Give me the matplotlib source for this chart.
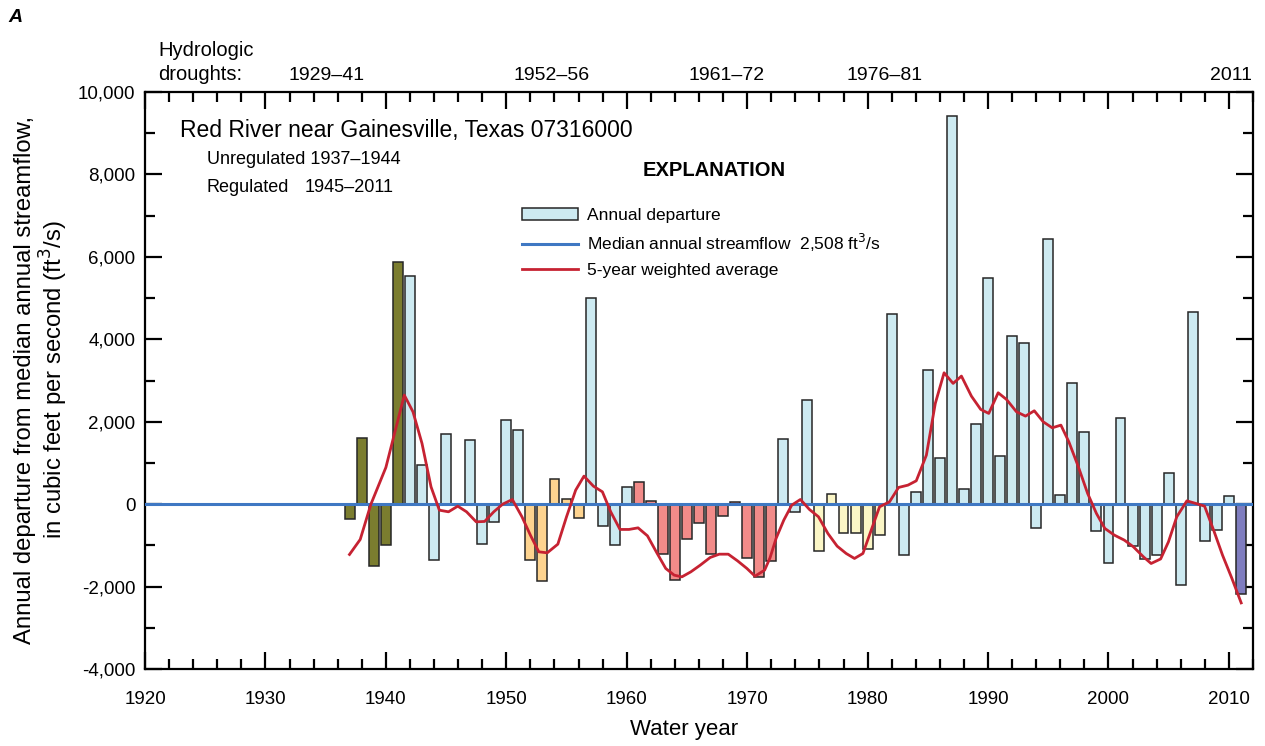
import numpy as np
import matplotlib
matplotlib.use("Agg")
from matplotlib import pyplot as plt
from matplotlib.patches import Patch
from matplotlib.lines import Line2D
from matplotlib.ticker import MultipleLocator, FuncFormatter

plt.rcParams['font.family'] = ['Liberation Sans', 'DejaVu Sans']

# annual departure from median streamflow, ft3/s
years = list(range(1937, 2012))
departure = [-350, 1600, -1500, -980, 5870, 5540, 950, -1360, 1690, 0,
             1550, -955, -430, 2050, 1790, -1350, -1870, 600, 120, -330,
             4990, -520, -990, 410, 530, 80, -1210, -1850, -850, -460,
             -1200, -290, 60, -1310, -1770, -1370, 1590, -190, 2520, -1130,
             235, -690, -700, -1080, -750, 4620, -1240, 300, 3260, 1120,
             9410, 356, 1940, 5490, 1170, 4080, 3920, -570, 6430, 210,
             2950, 1760, -640, -1440, 2100, -1020, -1330, -1230, 760, -1950,
             4650, -900, -630, 200, -2180]

# 5-year weighted average
avg_years = [1936.98, 1937.87, 1938.76, 1940.0, 1941.53, 1942.25, 1943.0, 1943.75,
             1944.44, 1945.2, 1945.97, 1946.7, 1947.5, 1948.2, 1948.96, 1949.7,
             1950.5, 1951.3, 1952.0, 1952.7, 1953.4, 1954.28, 1955.0, 1955.76,
             1956.45, 1957.23, 1957.98, 1958.67, 1959.44, 1960.19, 1960.94, 1961.72,
             1962.5, 1963.24, 1963.94, 1964.58, 1965.32, 1966.1, 1966.93, 1967.68,
             1968.43, 1969.2, 1969.98, 1970.65, 1971.45, 1971.9, 1972.4, 1973.04,
             1973.7, 1974.42, 1975.17, 1975.92, 1976.7, 1977.47, 1978.22, 1978.91,
             1979.61, 1980.3, 1980.99, 1981.82, 1982.57, 1983.35, 1984.04, 1984.88,
             1985.62, 1986.35, 1987.1, 1987.79, 1988.62, 1989.39, 1990.06, 1990.84,
             1991.53, 1992.36, 1993.11, 1993.84, 1994.58, 1995.33, 1996.05, 1996.71,
             1997.5, 1998.27, 1999.0, 1999.7, 2000.49, 2001.32, 2002.07, 2002.9,
             2003.54, 2004.33, 2004.98, 2005.67, 2006.51, 2007.25, 2007.98, 2008.73,
             2009.47, 2010.25, 2011.02]
avg_values = [-1221, -857, 0, 890, 2646, 2241, 1473, 420,
              -146, -186, -49, -186, -429, -420, -186, 0,
              113, -307, -752, -1157, -1181, -971, -307, 340,
              680, 437, 299, -186, -614, -614, -575, -769,
              -1182, -1561, -1723, -1764, -1643, -1481, -1294, -1214,
              -1214, -1376, -1561, -1748, -1600, -1300, -832, -388,
              -24, 113, -129, -307, -711, -1019, -1197, -1318,
              -1197, -631, -65, 57, 405, 461, 566, 1189,
              2444, 3187, 2929, 3107, 2620, 2299, 2201, 2702,
              2541, 2241, 2136, 2265, 1998, 1852, 1917, 1512,
              906, 259, -226, -590, -752, -874, -1036, -1278,
              -1440, -1330, -915, -307, 80, 17, -49, -631,
              -1238, -1803, -2396]

drought_labels = ['1929\u201341', '1952\u201356', '1961\u201372', '1976\u201381', '2011']
drought_start = [1929, 1952, 1961, 1976, 2011]
drought_end = [1941, 1956, 1972, 1981, 2011]
drought_colors = ['#7b7d2f', '#fdd38f', '#f28b89', '#fbf6c6', '#7f7dbf']
drought_label_x = [327, 552, 727, 885, 1231]   # pixel positions of labels
bar_color = '#cdeaf1'
median_flow = 2508

colors = []
for y in years:
    c = bar_color
    for s, e, dc in zip(drought_start, drought_end, drought_colors):
        if s <= y <= e:
            c = dc
    colors.append(c)

W, H = 1265, 746
def px(x, y):
    # pixel position -> figure fraction
    return x / W, 1 - y / H

fig = plt.figure(figsize=(W / 100, H / 100), dpi=100)
ax = fig.add_axes([145 / W, 1 - 669 / H, (1253 - 145) / W, (669 - 92) / H])

ax.bar(years, departure, width=0.82, color=colors, edgecolor='#262626', linewidth=1.1, zorder=2)
ax.axhline(0, color='#3f78c3', linewidth=2.2, zorder=3)
ax.plot(avg_years, avg_values, color='#c62232', linewidth=2.0, zorder=4)

ax.set_xlim(1920, 2012)
ax.set_ylim(-4000, 10000)
ax.xaxis.set_major_locator(MultipleLocator(10))
ax.xaxis.set_minor_locator(MultipleLocator(2))
ax.yaxis.set_major_locator(MultipleLocator(2000))
ax.yaxis.set_minor_locator(MultipleLocator(1000))
ax.yaxis.set_major_formatter(FuncFormatter(lambda v, p: f'{int(v):,}'))
ax.tick_params(which='both', direction='in', top=True, right=True, width=1.6, color='black',
               labelsize=13.5)
ax.tick_params(which='major', length=12)
ax.tick_params(which='minor', length=7)
ax.tick_params(axis='x', pad=16)
ax.tick_params(axis='y', pad=7)
for sp in ax.spines.values():
    sp.set_linewidth(1.6)

fig.text(*px(684, 730), 'Water year', fontsize=16, ha='center', va='center')
fig.text(*px(42, 380),
         'Annual departure from median annual streamflow,\nin cubic feet per second (ft$^3$/s)',
         rotation=90, ha='center', va='center', fontsize=17.2, linespacing=1.1)

# inset text
fig.text(*px(180, 130), 'Red River near Gainesville, Texas 07316000', fontsize=16.5, va='center')
fig.text(*px(207, 160), 'Unregulated 1937\u20131944', fontsize=13, va='center')
fig.text(*px(207, 187), 'Regulated', fontsize=13, va='center')
fig.text(*px(305, 187), '1945\u20132011', fontsize=13, va='center')
fig.text(*px(714, 171), 'EXPLANATION', fontsize=14.5, fontweight='bold', ha='center', va='center')

handles = [Patch(facecolor=bar_color, edgecolor='#262626', linewidth=1.1),
           Line2D([], [], color='#3f78c3', linewidth=2.2),
           Line2D([], [], color='#c62232', linewidth=2.0)]
labels = ['Annual departure',
          f'Median annual streamflow  {median_flow:,} ft$^3$/s',
          '5-year weighted average']
ax.legend(handles, labels, loc='upper left', bbox_to_anchor=px(522, 208),
          bbox_transform=fig.transFigure, frameon=False, fontsize=12.5,
          handlelength=3.2, handleheight=0.65, handletextpad=0.55, labelspacing=0.52,
          borderpad=0, borderaxespad=0)

# drought header
fig.text(*px(8, 18), 'A', fontsize=14, fontweight='bold', fontstyle='italic', va='center')
fig.text(*px(158, 50), 'Hydrologic', fontsize=14.5, va='center')
fig.text(*px(158, 75), 'droughts:', fontsize=14.5, va='center')
for lab, lx in zip(drought_labels, drought_label_x):
    fig.text(*px(lx, 75), lab, fontsize=14, ha='center', va='center')

fig.savefig('out.png', dpi=100)
